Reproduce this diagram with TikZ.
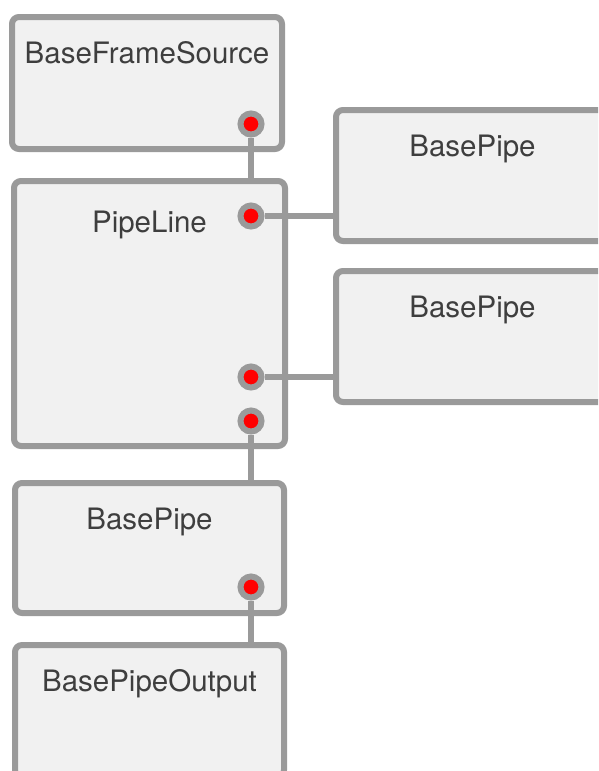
\documentclass[tikz,border=0pt]{standalone}
\usepackage{fontspec}
\setmainfont{TeX Gyre Heros}
\usepackage{tikz}
\usetikzlibrary{positioning}
\definecolor{wire}{HTML}{9A9A9A}
\definecolor{panel}{HTML}{F1F1F1}
\definecolor{ink}{HTML}{3E3E3E}
\definecolor{dot}{HTML}{FF0000}

\begin{document}
\begin{tikzpicture}[
 x=1pt,y=-1pt,
 block/.style={rectangle,rounded corners=7pt,draw=wire,fill=panel,line width=6pt,outer sep=0pt,anchor=north west,inner sep=0pt},
 title/.style={anchor=base,yshift=-46.5pt,text=ink,font=\fontsize{29.5}{35}\selectfont,inner sep=0pt},
 port/.style={circle,draw=wire,fill=dot,line width=6pt,minimum size=21pt,inner sep=0pt},
 link/.style={draw=wire,line width=6pt}
]
\useasboundingbox (0,0) rectangle (598,771);
\clip (0,0) rectangle (598,771);
% stages
\node[block,minimum width=270pt,minimum height=132pt,label={[title]north:BaseFrameSource}] (src) at (12,17) {};
\node[block,minimum width=271pt,minimum height=265pt,label={[title,yshift=-4.5pt]north:PipeLine}] (line) at (14,181) {};
\node[block,minimum width=273pt,minimum height=131pt,label={[title]north:BasePipe}] (pipe-a) at (336,110) {};
\node[block,minimum width=273pt,minimum height=131pt,label={[title]north:BasePipe}] (pipe-b) at (336,271) {};
\node[block,minimum width=269pt,minimum height=130pt,label={[title]north:BasePipe}] (pipe-c) at (15,483) {};
\node[block,minimum width=269pt,minimum height=132pt,label={[title]north:BasePipeOutput}] (out) at (15,645) {};
% ports
\node[port] (src-out) at (251,124) {};
\node[port] (line-a) at (251,216) {};
\node[port] (line-b) at (251,377) {};
\node[port] (line-c) at (251,421) {};
\node[port] (pipe-out) at (251,587) {};
% links
\draw[link] (src-out) -- (line.north -| src-out);
\draw[link] (line-a) -- (pipe-a.west |- line-a);
\draw[link] (line-b) -- (pipe-b.west |- line-b);
\draw[link] (line-c) -- (pipe-c.north -| line-c);
\draw[link] (pipe-out) -- (out.north -| pipe-out);
\end{tikzpicture}
\end{document}
